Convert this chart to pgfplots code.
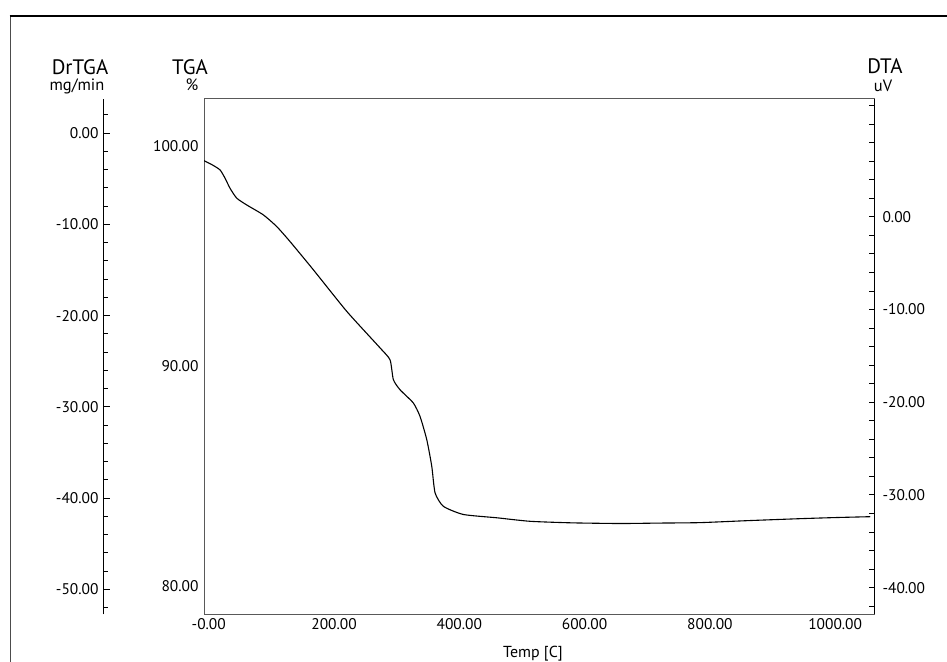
\documentclass[border=0pt]{standalone}
\usepackage{fontspec}
\setmainfont{PT Sans}
\usepackage{pgfplots}
\pgfplotsset{compat=1.18}
\begin{document}
\begin{tikzpicture}
\useasboundingbox (0,0) rectangle (947bp,662bp);
\draw[black!70, line width=1bp] (10bp,0) -- (10bp,646bp);
\draw[black, line width=1.6bp] (9.5bp,646bp) -- (947bp,646bp);
\pgfplotsset{every axis/.append style={scale only axis,
  /pgf/number format/assume math mode=true,
  tick label style={font=\fontsize{15.5}{18}\selectfont}}}
% DrTGA axis
\begin{axis}[at={(103bp,47.5bp)}, anchor=south west, width=1bp, height=515.5bp,
  xmin=0, xmax=1, ymin=-52.74, ymax=3.73,
  axis x line=none, axis y line=left, axis line style={-, black, line width=1bp},
  ytick={-50,-40,-30,-20,-10,0}, yticklabels={-50.00,-40.00,-30.00,-20.00,-10.00,0.00},
  minor ytick={-52,-48,-46,-44,-42,-38,-36,-34,-32,-28,-26,-24,-22,-18,-16,-14,-12,-8,-6,-4,-2,2},
  tick align=inside, major tick length=7bp, minor tick length=5bp,
  tick style={black, line width=1bp},
  yticklabel style={xshift=-1bp}]
\end{axis}
% main TGA axis
\begin{axis}[at={(204bp,47.5bp)}, anchor=south west, width=670bp, height=515.5bp,
  xmin=-7.6, xmax=1062, ymin=78.73, ymax=102.13,
  axis line style={black!65, line width=1bp},
  xtick={0,200,400,600,800,1000},
  xticklabels={-0.00,200.00,400.00,600.00,800.00,1000.00},
  ytick={80,90,100}, yticklabels={80.00,90.00,100.00},
  major tick length=0pt,
  yticklabel style={xshift=-2bp},
  xticklabel style={yshift=0bp}]
\addplot[black, line width=1.1bp, smooth, tension=0.35] coordinates {
(-7.6,99.33) (5,99.15) (18,98.91) (25.9,98.54) (33.9,98.08) (44.6,97.63) (60.6,97.32)
(87.1,96.87) (108.5,96.34) (129.7,95.66) (166.9,94.38) (220.3,92.49) (273.5,90.83)
(289.4,90.29) (294.7,89.39) (305.4,88.93) (326.6,88.33) (337.3,87.72) (348.0,86.67)
(356.0,85.46) (361.3,84.25) (374.5,83.64) (406.5,83.27) (459.8,83.12) (513.1,82.96)
(580,82.89) (656.7,82.86) (720,82.88) (784.4,82.90) (860,82.99) (944.2,83.08) (1000,83.13) (1056,83.17)};
\end{axis}
% DTA axis
\begin{axis}[at={(204bp,47.5bp)}, anchor=south west, width=670bp, height=515.5bp,
  xmin=0, xmax=1, ymin=-42.9, ymax=12.72,
  axis x line=none, axis y line*=right, axis line style={-, black, line width=1bp},
  ytick={-40,-30,-20,-10,0}, yticklabels={-40.00,-30.00,-20.00,-10.00,0.00},
  minor ytick={-42,-38,-36,-34,-32,-28,-26,-24,-22,-18,-16,-14,-12,-8,-6,-4,-2,2,4,6,8,10,12},
  tick align=inside, major tick length=5bp, minor tick length=5bp,
  tick style={black, line width=1bp},
  yticklabel style={xshift=5bp}]
\end{axis}
\begin{scope}[every node/.style={inner sep=0pt, anchor=base}]
\node[font=\fontsize{21}{24}\selectfont] at (80bp,587bp) {DrTGA};
\node[font=\fontsize{16.5}{18}\selectfont] at (77bp,571bp) {mg/min};
\node[font=\fontsize{21}{24}\selectfont] at (190bp,587bp) {TGA};
\node[font=\fontsize{16.5}{18}\selectfont] at (192bp,571bp) {\%};
\node[font=\fontsize{21}{24}\selectfont] at (885bp,588bp) {DTA};
\node[font=\fontsize{16.5}{18}\selectfont] at (883bp,570bp) {uV};
\node[font=\fontsize{16}{18}\selectfont] at (533bp,5bp) {Temp [C]};
\end{scope}
\end{tikzpicture}
\end{document}
